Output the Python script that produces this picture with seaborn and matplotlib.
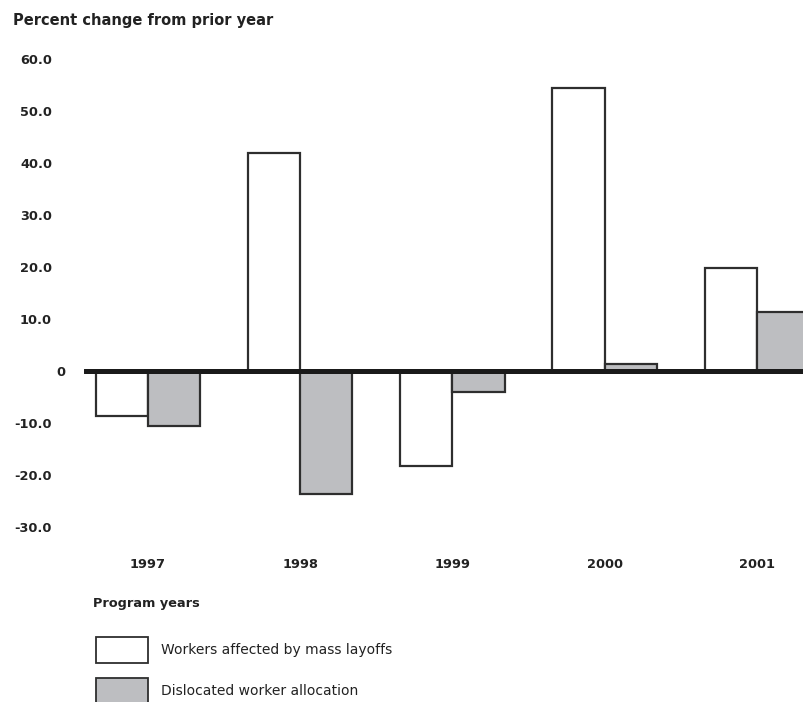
import matplotlib
matplotlib.use("Agg")
import matplotlib.pyplot as plt
import matplotlib.transforms as mtransforms
from matplotlib.patches import Patch
import seaborn as sns
import pandas as pd

# Program years and the two annual percent-change series
years = ["1997", "1998", "1999", "2000", "2001"]
layoffs = [-8.7, 42.0, -18.3, 54.4, 19.8]
allocation = [-10.6, -23.7, -4.0, 1.3, 11.3]
series_names = ["Workers affected by mass layoffs", "Dislocated worker allocation"]
y_ticks = [60, 50, 40, 30, 20, 10, 0, -10, -20, -30]
y_tick_labels = ["60.0", "50.0", "40.0", "30.0", "20.0", "10.0", "0", "-10.0", "-20.0", "-30.0"]

df = pd.DataFrame({
    "year": years * 2,
    "value": layoffs + allocation,
    "series": [series_names[0]] * len(years) + [series_names[1]] * len(years),
})

sns.set_theme(style="white")
plt.rcParams["font.family"] = ["DejaVu Sans"]

W, H = 804, 702
fig = plt.figure(figsize=(W / 100, H / 100), dpi=100)
ax = fig.add_axes([84 / W, 1 - 527 / H, 1 - 84 / W, (527 - 59) / H])

edge = "#2e2e2e"
text_color = "#222222"
palette = {series_names[0]: "#ffffff", series_names[1]: "#bdbec1"}
sns.barplot(data=df, x="year", y="value", hue="series", hue_order=series_names,
            palette=palette, width=0.685, edgecolor=edge, linewidth=1.6,
            saturation=1, legend=False, ax=ax)

# heavy zero baseline
ax.axhline(0, color="#1a1a1a", lw=3.6, zorder=5)

ax.set_xlim(-0.42, 4.31)
ax.set_ylim(-30, 60)
sns.despine(ax=ax, left=True, bottom=True)

ax.set_yticks(y_ticks)
ax.set_yticklabels(y_tick_labels)
ax.tick_params(axis="y", length=0, pad=23, labelsize=9.3, labelcolor=text_color)
ax.tick_params(axis="x", length=0, pad=22, labelsize=9.3, labelcolor=text_color)
for lab in ax.get_yticklabels() + ax.get_xticklabels():
    lab.set_fontweight("bold")
# the zero label sits closer to the axis line
for lab in ax.get_yticklabels():
    if lab.get_text() == "0":
        lab.set_transform(lab.get_transform() +
                          mtransforms.ScaledTranslation(13 / 100, 0, fig.dpi_scale_trans))

ax.set_ylabel("")
ax.set_xlabel("Program years", fontsize=9.3, fontweight="bold", color=text_color,
              ha="left", va="center")
ax.xaxis.set_label_coords(93 / W, 1 - 603 / H, transform=fig.transFigure)

fig.text(13 / W, 1 - 21 / H, "Percent change from prior year", fontsize=10.5,
         fontweight="bold", color=text_color, ha="left", va="center")

handles = [Patch(facecolor=palette[s], edgecolor=edge, linewidth=1.3) for s in series_names]
fs = 10.0
fs_px = fs * 100 / 72
box_h = 26
hh = (box_h / fs_px - 0.245) / 0.65
fig.legend(handles, series_names, loc="upper left",
           bbox_to_anchor=(96 / W, 1 - 637 / H), bbox_transform=fig.transFigure,
           frameon=False, fontsize=fs, borderpad=0, borderaxespad=0,
           handlelength=52 / fs_px, handleheight=hh,
           labelspacing=15 / fs_px, handletextpad=13 / fs_px,
           labelcolor=text_color)

fig.savefig("out.png", dpi=100)
